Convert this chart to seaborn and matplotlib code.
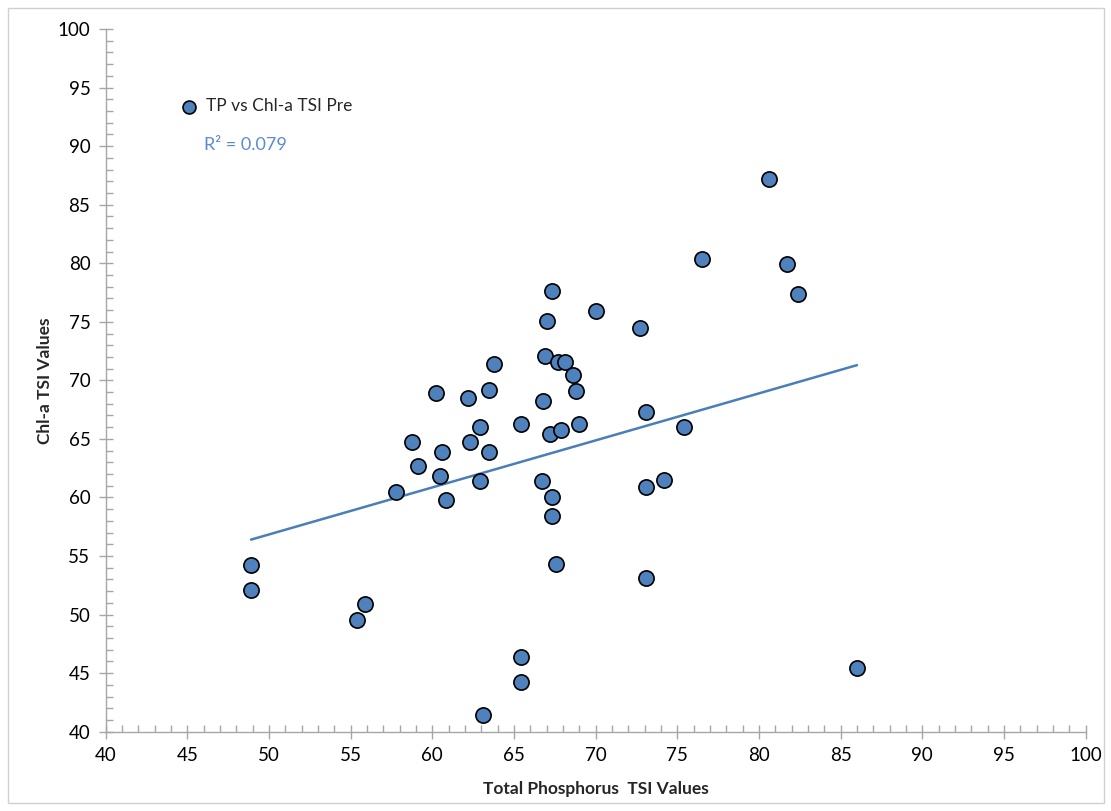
import matplotlib
matplotlib.use("Agg")
import matplotlib.pyplot as plt
import seaborn as sns
import numpy as np
import pandas as pd
from matplotlib.ticker import MultipleLocator
from matplotlib.patches import Rectangle

# Data
tp_tsi = [48.9, 48.9, 55.9, 55.4, 57.8, 58.75, 59.1, 60.2, 60.6, 60.5,
          60.85, 62.2, 62.3, 62.9, 62.9, 63.5, 63.5, 63.8, 63.1, 65.4,
          65.4, 65.4, 66.8, 66.7, 66.9, 67.0, 67.2, 67.3, 67.3, 67.3,
          67.6, 67.7, 68.1, 67.9, 68.6, 68.8, 69.0, 70.0, 72.7, 73.1,
          73.1, 73.1, 74.2, 75.4, 76.5, 80.6, 81.7, 82.4, 86.0]
chla_tsi = [54.2, 52.1, 50.9, 49.5, 60.5, 64.7, 62.7, 68.9, 63.9, 61.8,
            59.8, 68.5, 64.7, 66.0, 61.4, 69.2, 63.9, 71.4, 41.4, 46.4,
            44.2, 66.3, 68.2, 61.4, 72.1, 75.1, 65.4, 77.6, 60.0, 58.4,
            54.3, 71.6, 71.6, 65.8, 70.5, 69.1, 66.3, 75.9, 74.5, 67.3,
            60.9, 53.1, 61.5, 66.0, 80.4, 87.2, 79.9, 77.4, 45.4]
# Linear trend line as drawn in the reference (end points)
trend_x = [48.9, 86.0]
trend_y = [56.4, 71.3]
series_name = "TP vs Chl-a TSI Pre"
r2_label = "R² = 0.079"
x_label = "Total Phosphorus  TSI Values"
y_label = "Chl-a TSI Values"

df = pd.DataFrame({"tp": tp_tsi, "chla": chla_tsi})
trend = pd.DataFrame({"x": trend_x, "y": trend_y})

sns.set_style("white")
plt.rcParams["font.family"] = ["Lato", "DejaVu Sans"]

fig = plt.figure(figsize=(11.11, 8.11), dpi=100)
ax = fig.add_axes([0.0951, 0.0978, 0.9772 - 0.0951, 0.9642 - 0.0978])

blue = "#4f81bd"
sns.lineplot(data=trend, x="x", y="y", ax=ax, color="#4a7ebb", lw=1.8, zorder=2)
sns.scatterplot(data=df, x="tp", y="chla", ax=ax, s=120, color=blue,
                edgecolor="black", linewidth=1.2, zorder=3, label=series_name)

ax.set_xlim(40, 100)
ax.set_ylim(40, 100)
ax.xaxis.set_major_locator(MultipleLocator(5))
ax.yaxis.set_major_locator(MultipleLocator(5))
ax.xaxis.set_minor_locator(MultipleLocator(1))
ax.yaxis.set_minor_locator(MultipleLocator(1))

gray = "#a6a6a6"
for s in ["top", "right"]:
    ax.spines[s].set_visible(False)
for s in ["left", "bottom"]:
    ax.spines[s].set_color(gray)
    ax.spines[s].set_linewidth(1.0)

ax.tick_params(axis="both", which="major", direction="inout", length=10,
               width=1, color=gray, labelsize=13.5, labelcolor="black", pad=6)
ax.tick_params(axis="both", which="minor", direction="in", length=5,
               width=1, color=gray)
ax.tick_params(axis="x", which="both", bottom=True)
ax.tick_params(axis="y", which="both", left=True)

ax.set_xlabel(x_label, fontsize=12.5, fontweight="bold", labelpad=12)
ax.set_ylabel(y_label, fontsize=12.5, fontweight="bold", labelpad=3.5)

leg = ax.legend(loc="center left", bbox_to_anchor=(0.060, 0.890), frameon=False,
                fontsize=12.5, handletextpad=0.0, borderaxespad=0, markerscale=0.85)

ax.text(0.100, 0.835, r2_label, transform=ax.transAxes, fontsize=13,
        color="#5b8bd0", va="center", ha="left")

fig.patches.append(Rectangle((8 / 1111, 1 - 803 / 811), 1096 / 1111, 795 / 811,
                             transform=fig.transFigure, fill=False,
                             edgecolor="#d0d0d0", lw=1))

fig.savefig("out.png", dpi=100)
